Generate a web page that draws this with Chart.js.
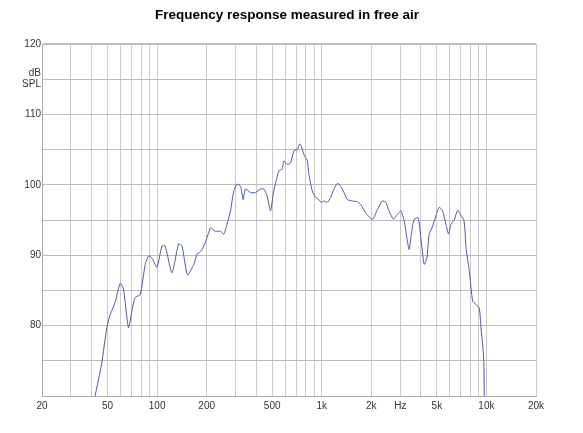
<!DOCTYPE html>
<html>
<head>
<meta charset="utf-8">
<script src="https://cdn.jsdelivr.net/npm/chart.js@4.4.1/dist/chart.umd.min.js"></script>
<style>
  html, body { margin: 0; padding: 0; background: #fff; }
  #wrap { width: 583px; height: 433px; }
</style>
</head>
<body>
<div id="wrap"><canvas id="myChart" width="583" height="433"></canvas></div>
<script>
'use strict';

// frequency (Hz) and level (dB SPL)
var freq = [42, 46, 49.5, 52, 55.6, 59.7, 62.5, 67, 70.3, 73.6, 79, 84.7, 88.7, 93, 99.8,
            107, 112, 123, 135, 141.6, 153, 167, 175, 181, 187.6, 196, 205.7, 210.5, 226,
            242, 254, 266, 279, 292, 306, 321, 333, 344, 369, 396, 425, 445, 466, 488, 511,
            549, 575, 588, 617, 646, 677, 710, 733, 750, 779, 817, 835, 876, 917, 961, 990,
            1031, 1081, 1132, 1186, 1244, 1303, 1365, 1431, 1535, 1646, 1724, 1849, 2031,
            2178, 2335, 2447, 2564, 2725, 2883, 3020, 3162, 3285, 3393, 3508, 3639, 3848,
            3996, 4187, 4347, 4489, 4709, 4933, 5166, 5418, 5675, 5893, 6086, 6373, 6685,
            6935, 7272, 7400, 7509, 7864, 8248, 8638, 9047, 9266, 9623, 9707];
var spl = [70, 74.5, 79.7, 81.6, 83.3, 86.0, 85.2, 79.7, 82.1, 84.0, 84.4, 88.7, 89.9, 89.6, 88.3,
           91.3, 91.3, 87.5, 91.6, 91.3, 87.2, 88.7, 90.2, 90.4, 90.8, 91.8, 93.2, 93.9, 93.4,
           93.4, 93.0, 94.4, 96.3, 99.1, 100.1, 99.8, 97.9, 99.4, 98.9, 98.9, 99.4, 99.4, 98.4, 96.3, 99.1,
           102.0, 102.2, 103.4, 102.9, 103.1, 104.8, 105.0, 105.8, 105.5, 104.3, 103.4, 101.5, 99.1, 98.2, 97.9, 97.5,
           97.7, 97.5, 98.2, 99.4, 100.2, 99.8, 98.9, 97.9, 97.7, 97.6, 97.2, 96.0, 95.1,
           96.5, 97.7, 97.5, 96.3, 95.1, 95.8, 96.3, 94.9, 92.5, 90.8, 93.2, 95.1, 95.3,
           92.5, 88.7, 89.6, 93.0, 94.1, 95.6, 96.8, 96.3, 94.4, 93.0, 94.4, 95.0, 96.4,
           95.8, 95.1, 93.7, 91.1, 87.8, 83.5, 83.0, 82.5, 79.7, 75.4, 69.8];

// x grid lines and the labels shown under some of them
var xGrid = [20, 30, 40, 50, 60, 70, 80, 90, 100, 200, 300, 400, 500, 600, 700, 800, 900,
             1000, 2000, 3000, 4000, 5000, 6000, 7000, 8000, 9000, 10000, 20000];
var xTickVals = [20, 50, 100, 200, 500, 1000, 2000, 3000, 5000, 10000, 20000];
var xTickText = ['20', '50', '100', '200', '500', '1k', '2k', 'Hz', '5k', '10k', '20k'];

// y ticks every 5 dB, labelled every 10 (plus unit at 115)
var yTickVals = [80, 90, 100, 110, 115, 120];
var yTickText = ['80', '90', '100', '110', ['dB', 'SPL'], '120'];

var title = 'Frequency response measured in free air';

var points = freq.map(function (f, i) { return { x: f, y: spl[i] }; });

//title drawn at a fixed place, a bit right of the canvas middle like the original
var titlePlugin = {
  id: 'fixedTitle',
  afterDraw: function (chart) {
    var c = chart.ctx;
    c.save();
    c.fillStyle = '#000';
    c.font = 'bold 13.5px "Liberation Sans", Arial, sans-serif';
    c.textAlign = 'center';
    c.textBaseline = 'middle';
    c.fillText(title, 287, 15);
    c.restore();
  }
};

var ctx = document.getElementById('myChart').getContext('2d');
var myChart = new Chart(ctx, {
  type: 'line',
  data: {
    datasets: [{
      data: points,
      borderColor: '#4a58a8',
      borderWidth: 1,
      pointRadius: 0,
      tension: 0.2,
      fill: false
    }]
  },
  options: {
    responsive: false,
    animation: false,
    layout: { padding: { left: 0, right: 47, top: 44, bottom: 0 } },
    plugins: {
      legend: { display: false },
      tooltip: { enabled: false },
      title: { display: false }
    },
    scales: {
      x: {
        type: 'logarithmic',
        min: 20,
        max: 20000,
        afterBuildTicks: function (scale) {
          scale.ticks = xGrid.map(function (v) { return { value: v }; });
        },
        afterFit: function (scale) { scale.height = 37; },
        grid: {
          color: '#c9c9c9',
          lineWidth: 1,
          drawTicks: false
        },
        border: { display: true, color: '#a8a8a8', width: 1 },
        ticks: {
          autoSkip: false,
          maxRotation: 0,
          padding: 4,
          color: '#333',
          font: { family: '"Liberation Sans", Arial, sans-serif', size: 10 },
          callback: function (v) {
            var k = xTickVals.indexOf(v);
            return k >= 0 ? xTickText[k] : '';
          }
        }
      },
      y: {
        min: 70,
        max: 120,
        afterBuildTicks: function (scale) {
          var t = [];
          for (var v = 70; v <= 120; v += 5) t.push({ value: v });
          scale.ticks = t;
        },
        afterFit: function (scale) { scale.width = 42; },
        grid: {
          color: '#bdbdbd',
          lineWidth: function (c) { return c.tick && c.tick.value === 120 ? 2 : 1; },
          drawTicks: false
        },
        border: { display: true, color: '#a8a8a8', width: 1 },
        ticks: {
          padding: 1,
          color: '#333',
          font: { family: '"Liberation Sans", Arial, sans-serif', size: 10, lineHeight: 1.1 },
          callback: function (v) {
            var k = yTickVals.indexOf(v);
            return k >= 0 ? yTickText[k] : '';
          }
        }
      }
    }
  },
  plugins: [titlePlugin]
});
</script>
</body>
</html>
